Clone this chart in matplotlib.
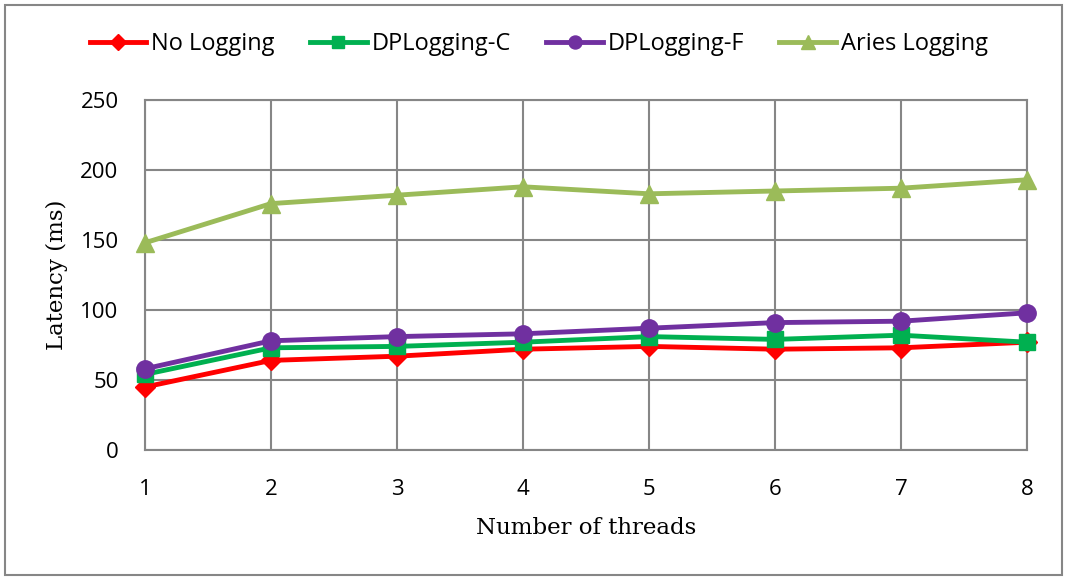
import matplotlib
matplotlib.use("Agg")
import matplotlib.pyplot as plt
from matplotlib.patches import Rectangle

threads = [1, 2, 3, 4, 5, 6, 7, 8]
no_logging = [45, 64, 67, 72, 74, 72, 73, 77]
dplogging_c = [54, 73, 74, 77, 81, 79, 82, 77]
dplogging_f = [58, 78, 81, 83, 87, 91, 92, 98]
aries_logging = [148, 176, 182, 188, 183, 185, 187, 193]
yticks = [0, 50, 100, 150, 200, 250]

W, H = 1067, 580
fig = plt.figure(figsize=(W / 100, H / 100), dpi=100)
ax = fig.add_axes([145 / W, 1 - 450 / H, (1027 - 145) / W, 350 / H])

grid_c = "#868686"
series = [
    ("No Logging", no_logging, "#FF0000", "D", 10.5),
    ("DPLogging-C", dplogging_c, "#00B050", "s", 11.5),
    ("DPLogging-F", dplogging_f, "#7030A0", "o", 12.5),
    ("Aries Logging", aries_logging, "#9BBB59", "^", 12.5),
]
for name, vals, col, mk, ms in series:
    ax.plot(threads, vals, color=col, lw=3.5, marker=mk, ms=ms, label=name,
            markeredgecolor=col, zorder=3, clip_on=False)

ax.set_xlim(1, 8)
ax.set_ylim(0, 250)
ax.set_yticks(yticks)
ax.set_xticks(threads)
ax.grid(True, color=grid_c, lw=1.5)
ax.set_axisbelow(True)
for s in ax.spines.values():
    s.set_color(grid_c)
    s.set_linewidth(1.5)
ax.tick_params(length=0, labelsize=16)
ax.tick_params(axis="x", pad=21)
ax.tick_params(axis="y", pad=19)
for lab in ax.get_xticklabels() + ax.get_yticklabels():
    lab.set_family("Open Sans")

ax.set_xlabel("Number of threads", family="DejaVu Serif", fontsize=16.5, labelpad=12)
ax.set_ylabel("Latency (ms)", family="DejaVu Serif", fontsize=16.5, labelpad=9)

leg = fig.legend(loc="center", bbox_to_anchor=(0.505, 1 - 44 / H), ncol=4, frameon=False,
                 prop={"family": "Open Sans", "size": 17}, handlelength=2.4,
                 columnspacing=1.5, handletextpad=0.2, markerscale=0.75)

fig.patches.append(Rectangle((5 / W, 5 / H), (W - 10) / W, (H - 10) / H,
                             transform=fig.transFigure, fill=False,
                             edgecolor="#868686", lw=1.5))

fig.savefig("out.png", dpi=100)
